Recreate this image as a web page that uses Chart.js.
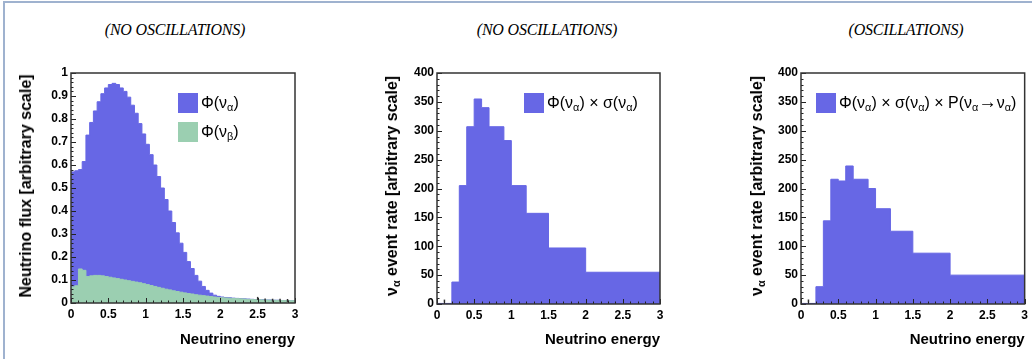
<!DOCTYPE html>
<html>
<head>
<meta charset="utf-8">
<script src="https://cdn.jsdelivr.net/npm/chart.js@4.4.1/dist/chart.umd.min.js"></script>
<style>
  html, body { margin: 0; padding: 0; background: #fff; }
  #page { position: relative; width: 1032px; height: 359px; overflow: hidden; font-family: 'Liberation Sans', Arial, sans-serif; color: #000; }
  #frame { position: absolute; left: 3px; top: 1px; width: 1040px; height: 370px; border-top: 2px solid #9fb2cf; border-left: 2px solid #9fb2cf; }
  canvas { position: absolute; top: 60px; }
  .head { position: absolute; top: 21px; font: italic 16px 'Liberation Serif', 'Times New Roman', serif; transform: translateX(-50%); white-space: nowrap; color: #000; letter-spacing: -0.2px; }
  .ytitle { position: absolute; font-weight: bold; font-size: 16px; white-space: nowrap; transform: translate(-50%, -50%) rotate(-90deg); }
  .legend { position: absolute; font-size: 16px; }
  .legend .item { display: flex; align-items: center; height: 29px; white-space: nowrap; }
  .legend .box { display: inline-block; width: 20px; height: 20px; margin-right: 3px; }
  .legend .arrow { font-size: 1.15em; line-height: 0; }
  sub { font-size: 0.68em; vertical-align: -0.3em; line-height: 0; }
</style>
</head>
<body>
<div id="page">
  <div id="frame"></div>
  <div class="head" style="left:175px">(NO OSCILLATIONS)</div>
  <div class="head" style="left:547px">(NO OSCILLATIONS)</div>
  <div class="head" style="left:906px">(OSCILLATIONS)</div>

  <canvas id="flux-chart" width="320" height="299" style="left:0px"></canvas>
  <canvas id="rate-chart" width="330" height="299" style="left:340px"></canvas>
  <canvas id="osc-chart" width="332" height="299" style="left:700px"></canvas>

  <div class="ytitle" style="left:26px; top:186px">Neutrino flux [arbitrary scale]</div>
  <div class="ytitle" style="left:392px; top:186px">ν<sub>α</sub> event rate [arbitrary scale]</div>
  <div class="ytitle" style="left:757px; top:186px">ν<sub>α</sub> event rate [arbitrary scale]</div>

  <div class="legend" id="flux-legend" style="left:178px; top:88px"></div>
  <div class="legend" id="rate-legend" style="left:524px; top:88px"></div>
  <div class="legend" id="osc-legend" style="left:816px; top:88px"></div>
</div>
<script>
// x axis (shared)
const energyTicks = [0, 0.5, 1, 1.5, 2, 2.5, 3];
const fluxTicks = [0, 0.1, 0.2, 0.3, 0.4, 0.5, 0.6, 0.7, 0.8, 0.9, 1];
const rateTicks = [0, 50, 100, 150, 200, 250, 300, 350, 400];

// left panel: 60 bins of 0.05 from 0 to 3
const fluxBinWidth = 0.05;
const fluxAlpha = [
  0.57, 0.575, 0.58, 0.615, 0.73, 0.785, 0.835, 0.875, 0.91, 0.935,
  0.95, 0.955, 0.95, 0.935, 0.92, 0.895, 0.86, 0.825, 0.78, 0.735,
  0.69, 0.645, 0.6, 0.55, 0.5, 0.45, 0.4, 0.35, 0.305, 0.26,
  0.22, 0.18, 0.15, 0.12, 0.095, 0.072, 0.055, 0.043, 0.034, 0.029,
  0.026, 0.024, 0.023, 0.021, 0.02, 0.019, 0.018, 0.017, 0.016, 0.015,
  0.014, 0.014, 0.013, 0.013, 0.012, 0.012, 0.011, 0.011, 0.01, 0.01
];
const fluxBeta = [
  0.07, 0.075, 0.148, 0.142, 0.115, 0.118, 0.12, 0.12, 0.118, 0.115,
  0.112, 0.109, 0.106, 0.103, 0.1, 0.097, 0.094, 0.091, 0.088, 0.084,
  0.08, 0.076, 0.072, 0.068, 0.064, 0.06, 0.057, 0.053, 0.05, 0.047,
  0.044, 0.041, 0.039, 0.036, 0.034, 0.032, 0.03, 0.028, 0.026, 0.024,
  0.023, 0.022, 0.021, 0.02, 0.019, 0.018, 0.017, 0.016, 0.015, 0.0145,
  0.014, 0.0135, 0.013, 0.0125, 0.012, 0.0115, 0.011, 0.0105, 0.01, 0.01
];
// stray dark markers in the tail of the left panel
const fluxMarkX = [2.5, 2.6, 2.7, 2.8, 2.9];
const fluxMarkY = [0.02, 0.013, 0.012, 0.012, 0.011];

// middle / right panels: variable bins
const rateEdges = [0, 0.2, 0.3, 0.4, 0.5, 0.6, 0.7, 0.9, 1.0, 1.2, 1.5, 2.0, 3.0];
const rateNoOsc = [1, 38, 205, 307, 355, 340, 307, 283, 205, 157, 97, 55];
const rateOsc = [1, 30, 144, 216, 213, 239, 216, 200, 165, 126, 88, 50];
const rateMarkX = [0.1];
const rateMarkY = [5];

const BLUE = '#6767e5';
const GREEN = '#9bcfb1';
const FONT = "'Liberation Sans', Arial, Helvetica, sans-serif";

const fluxEdges = Array.from({ length: fluxAlpha.length + 1 }, (_, i) => +(i * fluxBinWidth).toFixed(2));

function toSteps(edges, values) {
    const pts = values.map((v, i) => ({ x: edges[i], y: v }));
    pts.push({ x: edges[edges.length - 1], y: values[values.length - 1] });
    return pts;
}

function histDataset(label, edges, values, color, order) {
    return {
        label,
        data: toSteps(edges, values),
        stepped: true,
        fill: 'origin',
        backgroundColor: color,
        borderColor: color,
        borderWidth: 1,
        pointRadius: 0,
        order
    };
}

function markDataset(xs, ys) {
    return {
        label: '',
        inLegend: false,
        data: xs.map((x, i) => ({ x, y: ys[i] })),
        showLine: false,
        pointStyle: 'line',
        rotation: 90,
        pointRadius: 1.5,
        borderWidth: 1.5,
        borderColor: '#333',
        backgroundColor: '#333',
        order: -1
    };
}

const htmlLegend = {
    id: 'htmlLegend',
    afterUpdate(chart, args, opts) {
        const box = document.getElementById(opts.containerID);
        if (!box) return;
        box.innerHTML = '';
        chart.data.datasets.filter((ds) => ds.inLegend !== false).forEach((ds) => {
            const item = document.createElement('div');
            item.className = 'item';
            const sw = document.createElement('span');
            sw.className = 'box';
            sw.style.background = ds.backgroundColor;
            const txt = document.createElement('span');
            txt.innerHTML = ds.label
                .replace(/_(.)/g, '<sub>$1</sub>')
                .replace('→', '<span class="arrow">→</span>');
            item.appendChild(sw);
            item.appendChild(txt);
            box.appendChild(item);
        });
    }
};

// ROOT-like frame with ticks pointing inwards
const rootFrame = {
    id: 'rootFrame',
    afterDraw(chart, args, opts) {
        const { ctx, chartArea: a, scales: { x, y } } = chart;
        ctx.save();
        ctx.strokeStyle = '#222';
        ctx.lineWidth = 1;
        ctx.beginPath();
        const nx = Math.round(3 / opts.xMinor);
        for (let i = 0; i <= nx; i += 1) {
            const px = Math.round(x.getPixelForValue(i * opts.xMinor)) + 0.5;
            const len = i % opts.xPer === 0 ? 5 : 2.5;
            ctx.moveTo(px, a.bottom);
            ctx.lineTo(px, a.bottom - len);
        }
        const ny = Math.round(opts.yMax / opts.yMinor);
        for (let i = 0; i <= ny; i += 1) {
            const py = Math.round(y.getPixelForValue(i * opts.yMinor)) + 0.5;
            const len = i % opts.yPer === 0 ? 5 : 2.5;
            ctx.moveTo(a.left, py);
            ctx.lineTo(a.left + len, py);
        }
        ctx.stroke();
        ctx.lineWidth = 1.5;
        ctx.strokeStyle = '#333';
        ctx.strokeRect(a.left, a.top, a.right - a.left, a.bottom - a.top);
        ctx.restore();
    }
};

function makePanel(p) {
    const canvasTop = 60;
    return new Chart(document.getElementById(p.canvasId), {
        type: 'line',
        data: { datasets: p.datasets },
        options: {
            responsive: false,
            animation: false,
            layout: { padding: { top: p.plotTop - canvasTop, right: p.left + p.width - p.plotRight, left: 0, bottom: 0 } },
            plugins: {
                legend: { display: false },
                tooltip: { enabled: false },
                htmlLegend: { containerID: p.legendId },
                rootFrame: { xMinor: 0.1, xPer: 5, yMax: p.yTicks[p.yTicks.length - 1], yMinor: p.yMinor, yPer: p.yPer }
            },
            scales: {
                x: {
                    type: 'linear',
                    min: 0,
                    max: 3,
                    afterBuildTicks: (s) => { s.ticks = energyTicks.map((v) => ({ value: v })); },
                    afterFit: (s) => { s.height = 359 - p.plotBottom; },
                    grid: { display: false, drawTicks: false },
                    border: { display: false },
                    ticks: {
                        padding: 4,
                        color: '#000',
                        maxRotation: 0,
                        font: { family: FONT, size: 12, weight: 'bold' },
                        callback: (v) => String(Math.round(v * 100) / 100)
                    },
                    title: {
                        display: true,
                        text: 'Neutrino energy',
                        align: 'end',
                        color: '#000',
                        font: { family: FONT, size: 15, weight: 'bold' },
                        padding: { top: 0, bottom: 10 }
                    }
                },
                y: {
                    type: 'linear',
                    min: 0,
                    max: p.yTicks[p.yTicks.length - 1],
                    afterBuildTicks: (s) => { s.ticks = p.yTicks.map((v) => ({ value: v })); },
                    afterFit: (s) => { s.width = p.plotLeft - p.left; },
                    grid: { display: false, drawTicks: false },
                    border: { display: false },
                    ticks: {
                        padding: 3,
                        color: '#000',
                        font: { family: FONT, size: 12, weight: 'bold' },
                        callback: (v) => String(Math.round(v * 100) / 100)
                    }
                }
            }
        },
        plugins: [htmlLegend, rootFrame]
    });
}

makePanel({
    canvasId: 'flux-chart', legendId: 'flux-legend',
    left: 0, width: 320, plotLeft: 71, plotRight: 295, plotTop: 73, plotBottom: 303,
    yTicks: fluxTicks, yMinor: 0.02, yPer: 5,
    datasets: [
        histDataset('Φ(ν_α)', fluxEdges, fluxAlpha, BLUE, 1),
        histDataset('Φ(ν_β)', fluxEdges, fluxBeta, GREEN, 0),
        markDataset(fluxMarkX, fluxMarkY)
    ]
});

makePanel({
    canvasId: 'rate-chart', legendId: 'rate-legend',
    left: 340, width: 330, plotLeft: 437, plotRight: 660, plotTop: 73, plotBottom: 304,
    yTicks: rateTicks, yMinor: 10, yPer: 5,
    datasets: [
        histDataset('Φ(ν_α) × σ(ν_α)', rateEdges, rateNoOsc, BLUE, 0),
        markDataset(rateMarkX, rateMarkY)
    ]
});

makePanel({
    canvasId: 'osc-chart', legendId: 'osc-legend',
    left: 700, width: 332, plotLeft: 801, plotRight: 1025, plotTop: 73, plotBottom: 304,
    yTicks: rateTicks, yMinor: 10, yPer: 5,
    datasets: [
        histDataset('Φ(ν_α) × σ(ν_α) × P(ν_α→ν_α)', rateEdges, rateOsc, BLUE, 0),
        markDataset(rateMarkX, rateMarkY)
    ]
});
</script>
</body>
</html>
